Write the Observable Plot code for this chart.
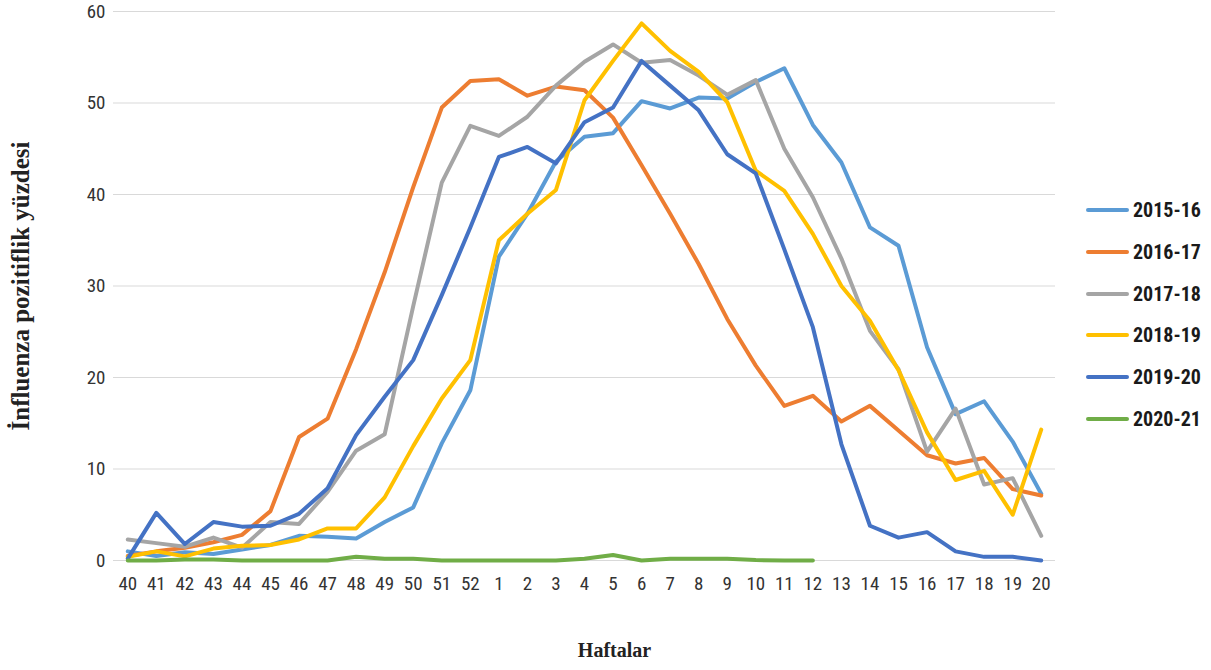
<!DOCTYPE html>
<html><head><meta charset="utf-8">
<script src="https://cdn.jsdelivr.net/npm/d3@7"></script>
<script src="https://cdn.jsdelivr.net/npm/@observablehq/plot@0.6"></script>
<style>
body{margin:0;background:#fff;}
#wrap{position:relative;width:1211px;height:670px;overflow:hidden;}
#legend{position:absolute;left:1086px;top:0;font-family:"Liberation Sans Narrow","Arial Narrow","Roboto Condensed",sans-serif;font-weight:bold;font-size:20px;color:#1a1a1a;}
.item{position:absolute;left:0;display:flex;align-items:center;white-space:nowrap;height:24px;}
.swatch{width:43px;height:4px;border-radius:2px;margin-right:4px;}
</style></head><body><div id="wrap"></div>
<script>
const weeks = ["40","41","42","43","44","45","46","47","48","49","50","51","52","1","2","3","4","5","6","7","8","9","10","11","12","13","14","15","16","17","18","19","20"];
const seasons = ["2015-16","2016-17","2017-18","2018-19","2019-20","2020-21"];
const colors = ["#5B9BD5","#ED7D31","#A5A5A5","#FFC000","#4472C4","#70AD47"];
const yTicks = [0,10,20,30,40,50,60];

const s2015_16 = [1.0,0.5,0.9,0.7,1.2,1.7,2.7,2.6,2.4,4.2,5.8,12.8,18.6,33.2,37.9,43.6,46.3,46.7,50.2,49.4,50.6,50.5,52.3,53.8,47.6,43.5,36.4,34.4,23.3,16.0,17.4,13.0,7.3];
const s2016_17 = [0.5,1.0,1.4,2.0,2.8,5.4,13.5,15.5,23.1,31.5,40.8,49.5,52.4,52.6,50.8,51.8,51.4,48.4,43.2,37.9,32.4,26.4,21.3,16.9,18.0,15.2,16.9,14.2,11.5,10.6,11.2,7.8,7.1];
const s2017_18 = [2.3,1.9,1.5,2.5,1.4,4.2,4.0,7.5,12.0,13.8,27.8,41.3,47.5,46.4,48.5,51.9,54.5,56.4,54.4,54.7,53.0,50.9,52.5,45.0,39.7,33.0,25.1,20.9,11.9,16.6,8.3,9.0,2.7];
const s2018_19 = [0.4,1.0,0.45,1.3,1.6,1.7,2.3,3.5,3.5,6.9,12.5,17.7,21.9,35.0,37.9,40.5,50.3,54.6,58.7,55.7,53.4,50.1,42.6,40.4,35.7,30.0,26.2,20.8,14.0,8.8,9.8,5.0,14.3];
const s2019_20 = [0.2,5.2,1.8,4.2,3.7,3.8,5.1,7.9,13.7,17.9,21.9,29.0,36.4,44.1,45.2,43.4,47.9,49.5,54.6,51.9,49.2,44.4,42.3,34.0,25.5,12.7,3.8,2.5,3.1,1.0,0.4,0.4,0.0];
const s2020_21 = [0.0,0.0,0.1,0.1,0.0,0.0,0.0,0.0,0.4,0.2,0.2,0.0,0.0,0.0,0.0,0.0,0.2,0.6,0.0,0.2,0.2,0.2,0.05,0.0,0.0];

const seriesValues = [s2015_16,s2016_17,s2017_18,s2018_19,s2019_20,s2020_21];
const data = seriesValues.flatMap((vals, i) => vals.map((v, j) => ({season: seasons[i], week: weeks[j], value: v})));

const tickFont = '"Liberation Sans Narrow","Arial Narrow","Roboto Condensed",sans-serif';
const titleFont = '"Liberation Serif","Times New Roman",serif';

const chart = Plot.plot({
  width: 1211,
  height: 670,
  marginLeft: 113,
  marginRight: 156,
  marginTop: 11,
  marginBottom: 110,
  style: {fontFamily: tickFont, fontSize: "19px", color: "#333", background: "#fff"},
  x: {type: "point", domain: weeks, padding: 0.5, round: false, label: null},
  y: {domain: [0, 60], label: null},
  color: {domain: seasons, range: colors},
  marks: [
    Plot.ruleY(yTicks, {stroke: "#d9d9d9", strokeWidth: 1.2}),
    Plot.axisX({tickSize: 0, tickPadding: 16, label: null}),
    Plot.axisY({ticks: yTicks, tickSize: 0, tickPadding: 8, label: null}),
    Plot.line(data, {x: "week", y: "value", z: "season", stroke: "season", strokeWidth: 4, strokeLinejoin: "round", strokeLinecap: "round"}),
    Plot.text(["İnfluenza pozitiflik yüzdesi"], {text: d => d, frameAnchor: "left", textAnchor: "middle", dx: -93, rotate: -90, fontFamily: titleFont, fontWeight: "bold", fontSize: 25, fill: "#222"}),
    Plot.text(["Haftalar"], {text: d => d, frameAnchor: "bottom", dx: 30, dy: 96, fontFamily: titleFont, fontWeight: "bold", fontSize: 20, fill: "#222"})
  ]
});
const wrap = document.getElementById("wrap");
wrap.appendChild(chart);

const legend = document.createElement("div");
legend.id = "legend";
seasons.forEach((s, i) => {
  const item = document.createElement("div");
  item.className = "item";
  item.style.top = (198 + i * 41.8) + "px";
  const sw = document.createElement("span");
  sw.className = "swatch";
  sw.style.background = colors[i];
  const t = document.createElement("span");
  t.textContent = s;
  item.appendChild(sw); item.appendChild(t);
  legend.appendChild(item);
});
wrap.appendChild(legend);
</script>
</body></html>
